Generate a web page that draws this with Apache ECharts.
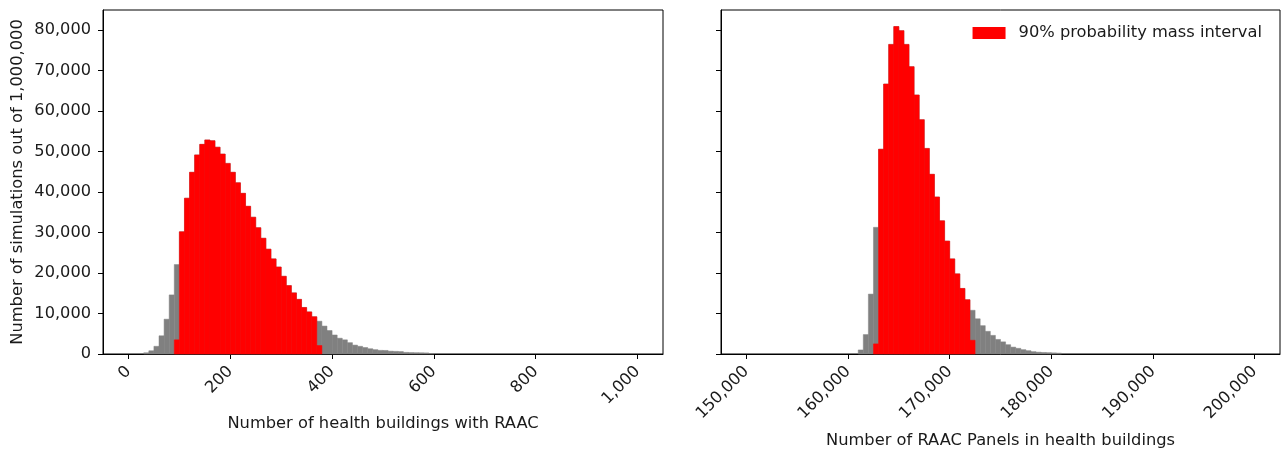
<!DOCTYPE html>
<html>
<head>
<meta charset="utf-8">
<script src="https://cdn.jsdelivr.net/npm/echarts@6/dist/echarts.min.js"></script>
<style>
html,body{margin:0;padding:0;background:#fff;}
#chart{width:1284px;height:452px;}
</style>
</head>
<body>
<div id="chart"></div>
<script>
// ---- Data ----
// Left panel: bins of width 10 starting at 0
const leftBinStart = 0;
const leftBinWidth = 10;
const leftAllCounts = [0,0,0,300,800,1900,4500,8600,14600,22100,
  30200,38500,44900,49200,51800,52900,52700,51100,49400,47100,
  44900,42300,39700,36500,33800,31200,28600,25900,23500,21500,
  19200,16900,15100,13500,11500,10400,9200,8100,6900,5800,
  4700,3900,3500,2800,2200,1900,1600,1300,1070,900,
  880,700,650,600,400,350,320,300,270,120];
const leftIntervalCounts = [0,0,0,0,0,0,0,0,0,3500,
  30200,38500,44900,49200,51800,52900,52700,51100,49400,47100,
  44900,42300,39700,36500,33800,31200,28600,25900,23500,21500,
  19200,16900,15100,13500,11500,10400,9200,2100];
// Right panel: bins of width 500 starting at 150,000
const rightBinStart = 150000;
const rightBinWidth = 500;
const rightAllCounts = [0,0,0,0,0,0,0,0,0,0,
  0,0,0,0,0,0,0,0,0,0,
  0,0,1000,4800,14800,31300,50600,66700,76500,80900,
  79900,76500,71000,64000,57900,50800,44400,38800,32900,27900,
  23500,19800,16200,13400,10800,8700,7000,5600,4600,3600,
  3000,2300,1700,1400,1070,820,580,450,380,330,280,220];
const rightIntervalCounts = [0,0,0,0,0,0,0,0,0,0,
  0,0,0,0,0,0,0,0,0,0,
  0,0,0,0,0,2500,50600,66700,76500,80900,
  79900,76500,71000,64000,57900,50800,44400,38800,32900,27900,
  23500,19800,16200,13400,3400];
const leftTicks = [0,200,400,600,800,1000];
const rightTicks = [150000,160000,170000,180000,190000,200000];
const yTicks = [0,10000,20000,30000,40000,50000,60000,70000,80000];
const legendLabel = '90% probability mass interval';
const leftXName = 'Number of health buildings with RAAC';
const rightXName = 'Number of RAAC Panels in health buildings';
const yName = 'Number of simulations out of 1,000,000';

// ---- Build ----
function toBins(counts, start, width){
  return counts.map((c,i)=>[start+i*width, start+(i+1)*width, c]);
}
function histItem(color){
  return function(params, api){
    const x0 = api.value(0), x1 = api.value(1), v = api.value(2);
    if (!v) return null;
    const p0 = api.coord([x0, 0]);
    const p1 = api.coord([x1, v]);
    return {type:'rect', shape:{x:p0[0], y:p1[1], width:p1[0]-p0[0], height:p0[1]-p1[1]},
      style:{fill:color, stroke:color, lineWidth:0.5}};
  };
}
const FONT = 'DejaVu Sans';
const TXT = '#1a1a1a';
const TICK_FS = 16.2;
const NAME_FS = 16.3;
const fmt = v => Number(v).toLocaleString('en-US');

function xAxisOpt(idx, min, max, ticks, name, gap){
  return {
    type:'value', gridIndex:idx, min:min, max:max,
    splitLine:{show:false},
    axisLine:{show:true, onZero:false, lineStyle:{color:'#000', width:1}},
    axisTick:{show:true, inside:false, length:5, lineStyle:{color:'#000'}, customValues:ticks},
    axisLabel:{show:true, rotate:45, margin:15, fontSize:TICK_FS, fontFamily:FONT, color:TXT,
      customValues:ticks, formatter:fmt},
    name:name, nameLocation:'middle', nameGap:gap,
    nameTextStyle:{fontSize:NAME_FS, fontFamily:FONT, color:TXT}
  };
}
function yAxisOpt(idx, showLabels){
  return {
    type:'value', gridIndex:idx, min:0, max:85000,
    splitLine:{show:false},
    axisLine:{show:true, onZero:false, lineStyle:{color:'#000', width:1}},
    axisTick:{show:true, inside:false, length:5, lineStyle:{color:'#000'}, customValues:yTicks},
    axisLabel:{show:showLabels, margin:12, fontSize:TICK_FS, fontFamily:FONT, color:TXT,
      customValues:yTicks, formatter:fmt},
    name: showLabels ? yName : '', nameLocation:'middle', nameGap:77, nameRotate:90,
    nameTextStyle:{fontSize:NAME_FS, fontFamily:FONT, color:TXT}
  };
}

const option = {
  animation:false,
  backgroundColor:'#fff',
  textStyle:{fontFamily:FONT},
  grid:[
    {left:103, right:621, top:10, bottom:98, show:true, borderColor:'#000', borderWidth:1,
      containLabel:false, outerBoundsMode:'none'},
    {left:721, right:4, top:10, bottom:98, show:true, borderColor:'#000', borderWidth:1,
      containLabel:false, outerBoundsMode:'none'}
  ],
  xAxis:[
    xAxisOpt(0, -50, 1050, leftTicks, leftXName, 62),
    xAxisOpt(1, 147500, 202500, rightTicks, rightXName, 79)
  ],
  yAxis:[ yAxisOpt(0, true), yAxisOpt(1, false) ],
  legend:{
    show:true, data:[{name:legendLabel, icon:'rect'}], right:17, top:20,
    itemWidth:33, itemHeight:12,
    textStyle:{fontSize:NAME_FS, fontFamily:FONT, color:TXT, padding:[0,0,0,8]}
  },
  series:[
    {type:'custom', name:'all-left', xAxisIndex:0, yAxisIndex:0,
      renderItem:histItem('#808080'), encode:{x:[0,1], y:2},
      data:toBins(leftAllCounts, leftBinStart, leftBinWidth)},
    {type:'custom', name:legendLabel, xAxisIndex:0, yAxisIndex:0, itemStyle:{color:'#ff0000'},
      renderItem:histItem('#ff0000'), encode:{x:[0,1], y:2},
      data:toBins(leftIntervalCounts, leftBinStart, leftBinWidth)},
    {type:'custom', name:'all-right', xAxisIndex:1, yAxisIndex:1,
      renderItem:histItem('#808080'), encode:{x:[0,1], y:2},
      data:toBins(rightAllCounts, rightBinStart, rightBinWidth)},
    {type:'custom', name:legendLabel, xAxisIndex:1, yAxisIndex:1, itemStyle:{color:'#ff0000'},
      renderItem:histItem('#ff0000'), encode:{x:[0,1], y:2},
      data:toBins(rightIntervalCounts, rightBinStart, rightBinWidth)}
  ]
};
const chart = echarts.init(document.getElementById('chart'), null, {renderer:'canvas'});
chart.setOption(option);
</script>
</body>
</html>
